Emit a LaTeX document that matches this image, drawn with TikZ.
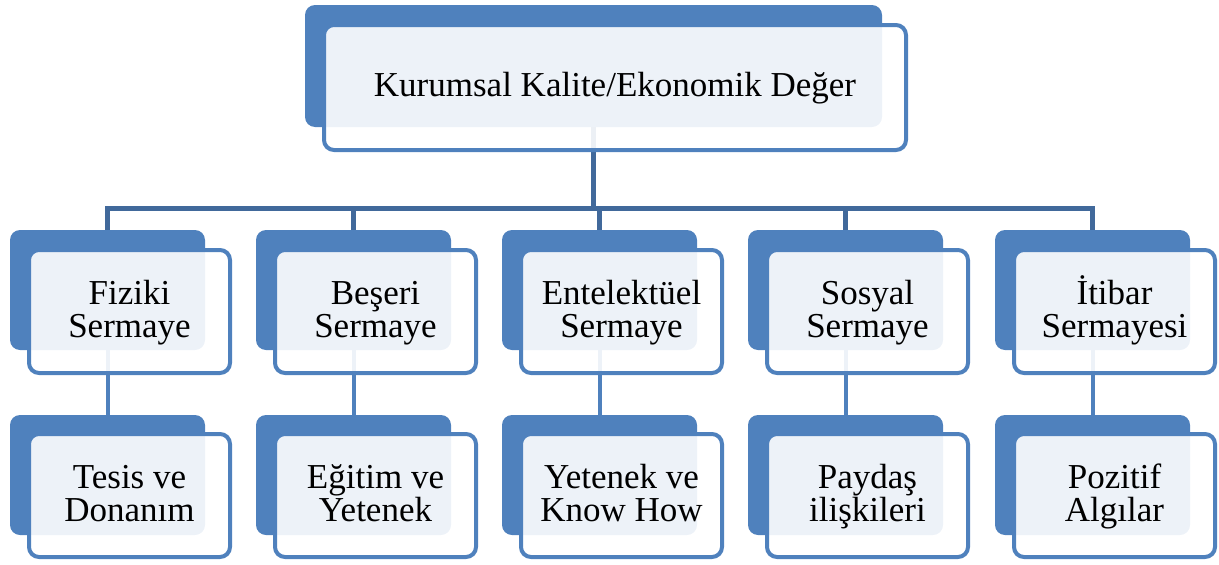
\documentclass[tikz,border=0pt]{standalone}
\usepackage{fontspec}
\setmainfont{Liberation Serif}
\definecolor{kutu}{HTML}{4F81BD}
\definecolor{hat}{HTML}{41699B}
\begin{document}
\begin{tikzpicture}[x=1pt,y=-1pt]
        %======estilos dos blocos==========%
        
            \tikzstyle{fundo}=[rectangle,rounded corners=10pt,fill=kutu,inner sep=0pt,outer sep=0pt,anchor=north west,minimum width=195pt,minimum height=120pt]
            \tikzstyle{frente}=[rectangle,rounded corners=10pt,draw=kutu,line width=4pt,fill=white,fill opacity=0.9,text opacity=1,inner sep=0pt,outer sep=0pt,anchor=north west,minimum width=201pt,minimum height=123pt,align=center,font=\fontsize{35}{33}\selectfont,text height=63pt,text depth=12pt]
            \tikzstyle{barra}=[draw=hat,line width=5pt]
            \tikzstyle{ramo}=[draw=kutu,line width=4pt]
        
        %====================%%=============%  
        
            \useasboundingbox (0,0) rectangle (1219,565);
        
            \node[fundo,minimum width=577pt,minimum height=122pt](kalite) at (305,5) {};
            \node[fundo](fiziki) at (10,230) {};
            \node[fundo](beseri) at (256,230) {};
            \node[fundo](entel) at (502,230) {};
            \node[fundo](sosyal) at (748,230) {};
            \node[fundo](itibar) at (995,230) {};
            \node[fundo](tesis) at (10,415) {};
            \node[fundo](egitim) at (256,415) {};
            \node[fundo](yetenek) at (502,415) {};
            \node[fundo](paydas) at (748,415) {};
            \node[fundo](pozitif) at (995,415) {};
        
            \draw[barra](kalite.south) -- +(0,81) -| (fiziki.north);
            \draw[barra](kalite.south) -- +(0,81) -| (beseri.north);
            \draw[barra](kalite.south) -- +(0,81) -| (entel.north);
            \draw[barra](kalite.south) -- +(0,81) -| (sosyal.north);
            \draw[barra](kalite.south) -- +(0,81) -| (itibar.north);
            \draw[ramo](fiziki) -- (tesis);
            \draw[ramo](beseri) -- (egitim);
            \draw[ramo](entel) -- (yetenek);
            \draw[ramo](sosyal) -- (paydas);
            \draw[ramo](itibar) -- (pozitif);
        
            \node[frente,minimum width=582pt,minimum height=125pt,text height=30pt](kaliteF) at (324,25) {Kurumsal Kalite/Ekonomik Değer};
            \node[frente](fizikiF) at (29,250) {Fiziki\\Sermaye};
            \node[frente](beseriF) at (275,250) {Beşeri\\Sermaye};
            \node[frente](entelF) at (521,250) {Entelektüel\\Sermaye};
            \node[frente](sosyalF) at (767,250) {Sosyal\\Sermaye};
            \node[frente](itibarF) at (1014,250) {İtibar\\Sermayesi};
            \node[frente](tesisF) at (29,434) {Tesis ve\\Donanım};
            \node[frente](egitimF) at (275,434) {Eğitim ve\\Yetenek};
            \node[frente](yetenekF) at (521,434) {Yetenek ve\\Know How};
            \node[frente](paydasF) at (767,434) {Paydaş\\ilişkileri};
            \node[frente](pozitifF) at (1014,434) {Pozitif\\Algılar};
        \end{tikzpicture}
\end{document}
